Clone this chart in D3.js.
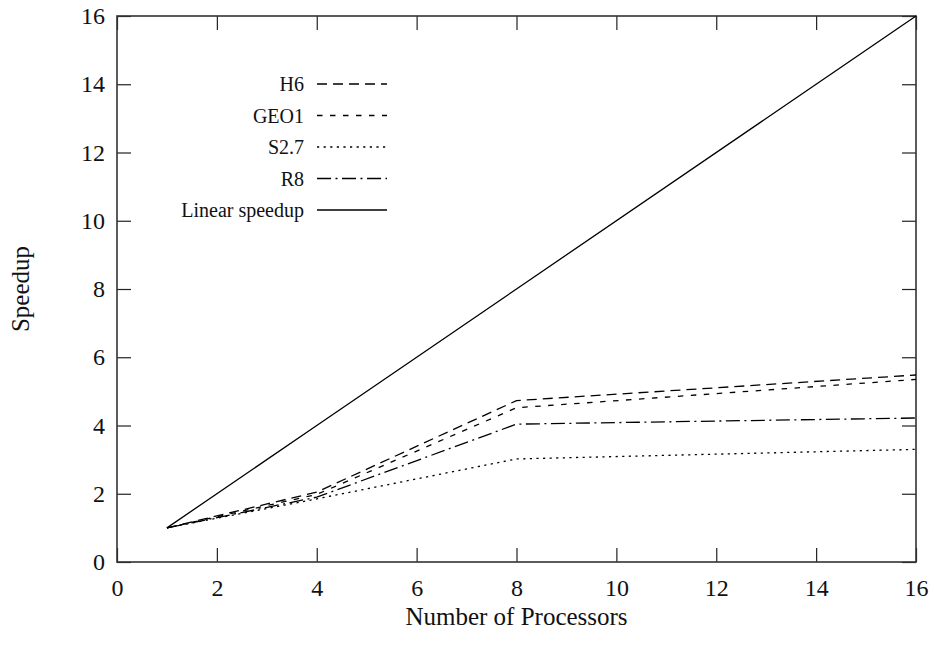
<!DOCTYPE html>
<html>
<head>
<meta charset="utf-8">
<script src="https://cdn.jsdelivr.net/npm/d3@7"></script>
<style>
  html, body { margin: 0; padding: 0; background: #fff; }
  svg { display: block; }
  text { font-family: "Liberation Serif", "DejaVu Serif", serif; fill: #111; }
</style>
</head>
<body>
<svg id="chart" width="934" height="647"></svg>
<script>
// Processor counts measured
const processors = [1, 4, 8, 16];

// Speedup per data set
const speedH6     = [1, 2.05, 4.73, 5.48];
const speedGEO1   = [1, 1.98, 4.52, 5.35];
const speedS27    = [1, 1.85, 3.02, 3.30];
const speedR8     = [1, 1.90, 4.04, 4.22];
const speedLinear = [1, 4, 8, 16];

const seriesNames = ["H6", "GEO1", "S2.7", "R8", "Linear speedup"];
const seriesValues = [speedH6, speedGEO1, speedS27, speedR8, speedLinear];
const dashStyles = ["10,6", "5.5,7.5", "2.2,4.4", "14,4.5,2,4.5", null];

const xTicks = [0, 2, 4, 6, 8, 10, 12, 14, 16];
const yTicks = [0, 2, 4, 6, 8, 10, 12, 14, 16];

const svg = d3.select("#chart");
const plotLeft = 117, plotRight = 916, plotTop = 16, plotBottom = 562;

const x = d3.scaleLinear().domain([0, 16]).range([plotLeft, plotRight]);
const y = d3.scaleLinear().domain([0, 16]).range([plotBottom, plotTop]);

const tickLen = 14;

// Axes with inward ticks on all four sides
const axisStyle = g => {
  g.select(".domain").remove();
  g.selectAll(".tick line").attr("stroke", "#222").attr("stroke-width", 1.2);
  g.selectAll(".tick text").style("font-size", "24px").attr("fill", "#111");
};

svg.append("g")
  .attr("transform", `translate(0,${plotBottom})`)
  .call(d3.axisBottom(x).tickValues(xTicks).tickFormat(d3.format("d"))
    .tickSizeInner(-tickLen).tickSizeOuter(0).tickPadding(17))
  .call(axisStyle);

svg.append("g")
  .attr("transform", `translate(0,${plotTop})`)
  .call(d3.axisTop(x).tickValues(xTicks).tickFormat("")
    .tickSizeInner(-tickLen).tickSizeOuter(0))
  .call(axisStyle);

svg.append("g")
  .attr("transform", `translate(${plotLeft},0)`)
  .call(d3.axisLeft(y).tickValues(yTicks).tickFormat(d3.format("d"))
    .tickSizeInner(-tickLen).tickSizeOuter(0).tickPadding(12))
  .call(axisStyle);

svg.append("g")
  .attr("transform", `translate(${plotRight},0)`)
  .call(d3.axisRight(y).tickValues(yTicks).tickFormat("")
    .tickSizeInner(-tickLen).tickSizeOuter(0))
  .call(axisStyle);

// Plot frame
svg.append("rect")
  .attr("x", plotLeft).attr("y", plotTop)
  .attr("width", plotRight - plotLeft).attr("height", plotBottom - plotTop)
  .attr("fill", "none").attr("stroke", "#333").attr("stroke-width", 1.6);

// Series lines
const line = d3.line()
  .x((d, i) => x(processors[i]))
  .y(d => y(d));

seriesValues.forEach((vals, k) => {
  svg.append("path")
    .datum(vals)
    .attr("d", line)
    .attr("fill", "none")
    .attr("stroke", "#000")
    .attr("stroke-width", 1.3)
    .attr("stroke-dasharray", dashStyles[k]);
});

// Legend
const legendTop = 84, legendStep = 31.5;
const legend = svg.append("g");
seriesNames.forEach((name, k) => {
  const ly = legendTop + k * legendStep;
  legend.append("text")
    .attr("x", 304).attr("y", ly)
    .attr("dy", "0.35em")
    .attr("text-anchor", "end")
    .style("font-size", "20px")
    .text(name);
  legend.append("line")
    .attr("x1", 317).attr("x2", 387)
    .attr("y1", ly).attr("y2", ly)
    .attr("stroke", "#000").attr("stroke-width", 1.3)
    .attr("stroke-dasharray", dashStyles[k]);
});

// Axis titles
svg.append("text")
  .attr("x", (plotLeft + plotRight) / 2).attr("y", 625)
  .attr("text-anchor", "middle")
  .style("font-size", "25px")
  .text("Number of Processors");

svg.append("text")
  .attr("transform", `translate(29,${(plotTop + plotBottom) / 2}) rotate(-90)`)
  .attr("text-anchor", "middle")
  .style("font-size", "25px")
  .text("Speedup");
</script>
</body>
</html>
